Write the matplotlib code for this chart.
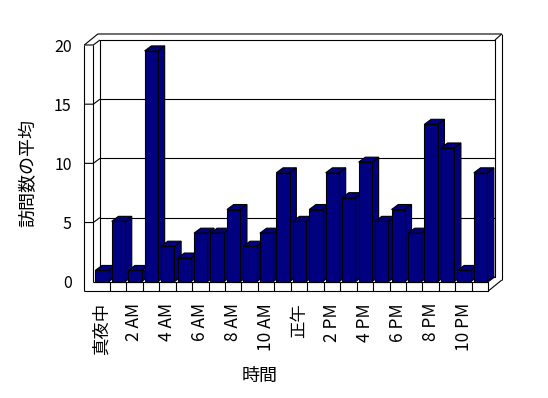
"""
Average visits per hour, drawn as an Excel-style 3D column chart.

Writes:
    out.png
"""
import matplotlib
matplotlib.use("Agg")  # headless
import matplotlib.pyplot as plt
from matplotlib.patches import Polygon

plt.rcParams["font.family"] = ["Noto Sans CJK JP", "DejaVu Sans"]

# ----- data -----
hour_labels = ["真夜中", "2 AM", "4 AM", "6 AM", "8 AM", "10 AM",
               "正午", "2 PM", "4 PM", "6 PM", "8 PM", "10 PM"]
visits = [0.95, 5.1, 0.95, 19.5, 3.0, 2.0, 4.1, 4.1, 6.1, 3.0, 4.1, 9.2,
          5.1, 6.1, 9.2, 7.1, 10.1, 5.1, 6.1, 4.1, 13.3, 11.3, 0.95, 9.2]
y_ticks = [0, 5, 10, 15, 20]

BAR_COLOR = "#000080"
LW = 0.8

# depth offsets in data units (front plane -> back wall, and outer slab edge)
DX, DY = 0.407, 0.4225
OX, OY = 0.82, 0.93
WALL = 0.547   # left wall thickness (categories)
FLOOR = 0.786  # floor thickness (value units)

n = len(visits)
ymax = y_ticks[-1]

fig = plt.figure(figsize=(5.48, 3.98), dpi=100)
ax = fig.add_axes([0.17026, 0.29221, 0.72080, 0.59472])
ax.set_xlim(0, n)
ax.set_ylim(0, ymax)
ax.patch.set_visible(False)
for s in ax.spines.values():
    s.set_visible(False)


def line(xs, ys, z=1):
    ax.plot(xs, ys, color="black", lw=LW, clip_on=False, zorder=z,
            solid_capstyle="butt")


# ----- walls / floor -----
# back plane and gridlines
line([DX, n + DX, n + DX, DX, DX], [DY, DY, ymax + DY, ymax + DY, DY])
for v in y_ticks[1:-1]:
    line([DX, n + DX], [v + DY, v + DY])
    line([-WALL, 0, DX], [v, v, v + DY])
# left wall
line([-WALL, -WALL], [-FLOOR, ymax])
line([0, 0], [0, ymax])
line([-WALL, 0, DX], [ymax, ymax, ymax + DY])
line([-WALL, -WALL + OX, n + OX], [ymax, ymax + OY, ymax + OY])
# right edge
line([n + OX, n + OX], [-FLOOR + OY, ymax + OY])
line([n + DX, n + OX], [ymax + DY, ymax + OY])
# floor
line([-WALL, n, n, 0], [-FLOOR, -FLOOR, 0, 0])
line([n, n + OX], [-FLOOR, -FLOOR + OY])
line([n, n + DX], [0, DY])
for i in range(1, n):
    line([i, i], [-FLOOR, 0])

# ----- bars -----
bw, off = 0.81, 0.12
for i, v in enumerate(visits):
    x0, x1 = i + off, i + off + bw
    z = 3 + i
    side = Polygon([(x1, 0), (x1 + DX, DY), (x1 + DX, v + DY), (x1, v)],
                   closed=True, fc=BAR_COLOR, ec="black", lw=LW, zorder=z,
                   clip_on=False)
    top = Polygon([(x0, v), (x1, v), (x1 + DX, v + DY), (x0 + DX, v + DY)],
                  closed=True, fc=BAR_COLOR, ec="black", lw=LW, zorder=z,
                  clip_on=False)
    ax.add_patch(side)
    ax.add_patch(top)
    ax.bar(x0, v, width=bw, align="edge", color=BAR_COLOR,
           edgecolor="black", lw=LW, zorder=z + 0.5, clip_on=False)

# ----- ticks and labels -----
ax.set_yticks(y_ticks)
ax.set_yticklabels([str(t) for t in y_ticks], fontsize=11.5)
ax.tick_params(axis="y", length=0, pad=15.5)

ax.set_xticks([2 * k + 0.5 for k in range(len(hour_labels))])
ax.set_xticklabels(hour_labels, rotation=90, fontsize=12.5)
ax.tick_params(axis="x", length=0, pad=15.3)

ax.set_xlabel("時間", fontsize=13, va="center")
ax.xaxis.set_label_coords(0.422, -0.398)
ax.set_ylabel("訪問数の平均", fontsize=13, va="center")
ax.yaxis.set_label_coords(-0.165, 0.459)

fig.savefig("out.png", dpi=100)
plt.close(fig)
